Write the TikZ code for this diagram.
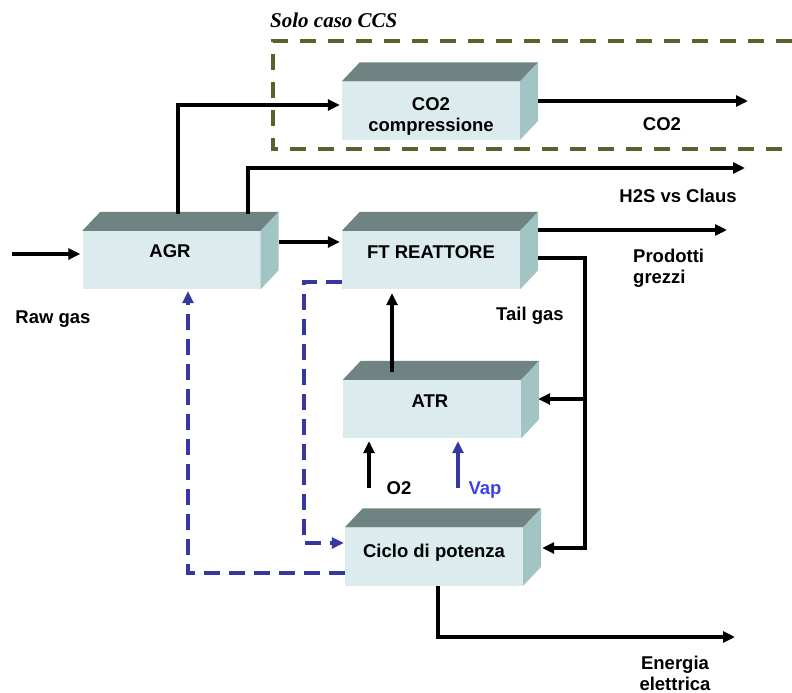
\documentclass[tikz,border=0pt]{standalone}
\usepackage{fontspec}
\setmainfont{Liberation Sans}
\newfontfamily\serifit{Liberation Serif}
\usetikzlibrary{arrows.meta,calc}

\definecolor{frontc}{RGB}{220,236,238}
\definecolor{topc}{RGB}{111,131,131}
\definecolor{sidec}{RGB}{162,196,197}
\definecolor{ccsgreen}{RGB}{85,100,45}
\definecolor{loopblue}{RGB}{55,55,160}
\definecolor{vapblue}{RGB}{64,64,230}

\tikzset{
  lbl/.style={font=\fontsize{18.5}{21}\selectfont\bfseries, inner sep=0pt},
  frontface/.style={fill=frontc, draw=none, inner sep=0pt,
    minimum width=178pt, minimum height=58pt},
  pipe/.style={line width=3.3pt},
  flow/.style={pipe, -{Triangle[length=12pt,width=11pt]}},
  loopflow/.style={flow, draw=loopblue, dash pattern=on 16pt off 9pt},
  ccsframe/.style={draw=ccsgreen, line width=3.4pt, dash pattern=on 16pt off 12pt},
}

% a process unit drawn as a block: front face, top face and right side
\newcommand\unitbox[2]{%
  \node[frontface] (#1) at (#2) {};
  \fill[topc] (#1.north west) -- ++(18,-19) -- ($(#1.north east)+(18,-19)$)
    -- (#1.north east) -- cycle;
  \fill[sidec] (#1.north east) -- ++(18,-19) -- ($(#1.south east)+(18,-19)$)
    -- (#1.south east) -- cycle;
}

\begin{document}
\begin{tikzpicture}[x=1pt,y=-1pt]
\useasboundingbox (0,0) rectangle (792,693);

% optional CCS section
\draw[ccsframe] (792,41) -- (273,41) -- (273,149) -- (792,149);
\node[font=\serifit\bfseries\itshape\fontsize{21}{24}\selectfont, anchor=base west, inner sep=0pt]
  (ccslbl) at (270,28) {Solo caso CCS};

% process units
\unitbox{agr}{171.5,260}
\unitbox{co2}{431,110.5}
\unitbox{ft}{431,260}
\unitbox{atr}{432,409}
\unitbox{ciclo}{434,556.5}

\node[lbl, anchor=base] (agrlbl) at (170,257) {AGR};
\node[lbl, align=center] (co2lbl) at (431,116) {CO2\\compressione};
\node[lbl, anchor=base] (ftlbl) at (431,258) {FT REATTORE};
\node[lbl, anchor=base] (atrlbl) at (430,407) {ATR};
\node[lbl, anchor=base] (ciclolbl) at (434,557) {Ciclo di potenza};

% stream labels
\node[lbl, anchor=base] (rawlbl) at (53,323) {Raw gas};
\node[lbl, anchor=base] (h2slbl) at (678,202) {H2S vs Claus};
\node[lbl, anchor=base] (co2outlbl) at (662,130) {CO2};
\node[lbl, align=left, anchor=west] (prodlbl) at (633,268) {Prodotti\\grezzi};
\node[lbl, anchor=base] (taillbl) at (530,320) {Tail gas};
\node[lbl, align=center] (enlbl) at (675,673.5) {Energia\\elettrica};
\node[lbl, anchor=base] (o2lbl) at (399,494) {O2};
\node[lbl, anchor=base, text=vapblue] (vaplbl) at (485,494) {Vap};

% free stream ends
\coordinate (rawin) at (12,254);
\coordinate (h2sout) at (745,168);
\coordinate (co2out) at (748,101);
\coordinate (prodout) at (727,230);
\coordinate (enout) at (735,637);
\coordinate (o2in) at (369,488);
\coordinate (vapin) at (458,488);
\coordinate (tailbus) at (585,258);

% main streams
\draw[flow] (rawin) -- ($(agr.west |- rawin)+(-2,0)$);
\draw[flow] ($(agr.north)+(6.5,-17)$) |- ($(co2.west)+(-2,-5.5)$);
\draw[flow] ($(agr.north)+(76.5,-17)$) |- (h2sout);
\draw[flow] ($(agr.east)+(18,-18)$) -- ($(ft.west)+(-2,-18)$);
\draw[flow] ($(co2.east)+(18,-9.5)$) -- (co2out);
\draw[flow] ($(ft.east)+(18,-30)$) -- (prodout);
\draw[pipe] ($(ft.east)+(18,-2)$) -- (tailbus)
  -- ($(tailbus |- ciclo.center)+(0,-8.5)$);
\draw[flow] ($(tailbus |- atr.center)+(0,-10)$) -- ($(atr.east)+(17,-10)$);
\draw[flow] ($(tailbus |- ciclo.center)+(1.65,-8.5)$) -- ($(ciclo.east)+(19,-8.5)$);
\draw[flow] ($(atr.north)+(-40,-8)$) -- ($(ft.south)+(-39,4)$);
\draw[flow] (o2in) -- ($(o2in |- atr.south)+(0,3)$);
\draw[flow, draw=loopblue] (vapin) -- ($(vapin |- atr.south)+(0,3)$);
\draw[flow] (ciclo.south -| 438,0) -- (438,637) -- (enout);

% recycled streams from the power cycle
\draw[loopflow] ($(ciclo.west)+(0,16.5)$) -| ($(agr.south)+(16.5,2)$);
\draw[loopflow] ($(ft.west)+(0,22)$) -- (304,282) |- ($(ciclo.west)+(-1,-13.5)$);
\end{tikzpicture}
\end{document}
